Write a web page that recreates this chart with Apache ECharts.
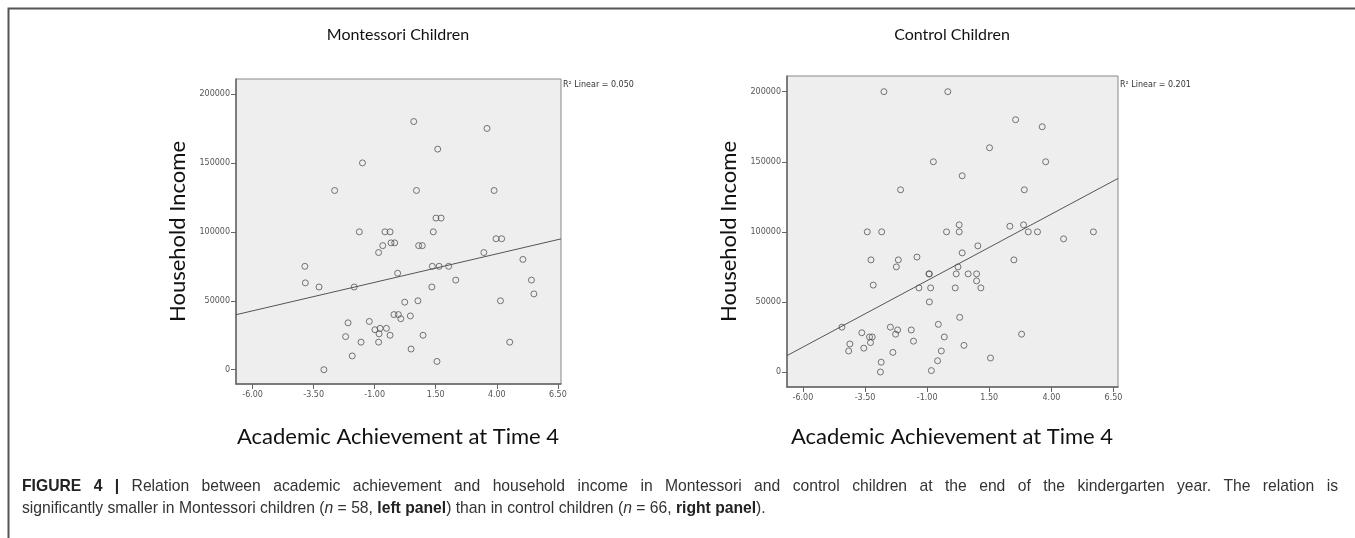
<!DOCTYPE html>
<html>
<head>
<meta charset="utf-8">
<script src="https://cdn.jsdelivr.net/npm/echarts@6/dist/echarts.min.js"></script>
<style>
html,body{margin:0;padding:0;background:#fff;}
#chart{width:1355px;height:538px;}
</style>
</head>
<body>
<div id="chart"></div>
<script>
// ---- Data ----
const panelTitles = ['Montessori Children', 'Control Children'];
const xAxisTitle = 'Academic Achievement at Time 4';
const yAxisTitle = 'Household Income';
const xTickValues = [-6, -3.5, -1, 1.5, 4, 6.5];
const yTickValues = [0, 50000, 100000, 150000, 200000];

const montessoriAchievement = [-1.5,-2.64,-1.63,-3.86,-3.84,-3.28,-1.84,-2.09,-2.19,-1.22,-1.56,-1.92,-3.08,0.60,3.60,1.58,0.71,3.89,1.51,1.72,-0.58,-0.37,1.40,3.97,4.20,-0.33,-0.18,-0.67,-0.84,0.80,0.95,3.47,5.07,-0.06,1.36,1.64,2.03,2.32,5.42,1.34,5.52,0.23,0.77,4.15,-0.21,-0.03,0.07,0.46,-0.99,-0.78,-0.82,-0.52,-0.37,-0.84,0.98,0.49,4.53,1.55];
const montessoriIncome = [150000,130000,100000,75000,63000,60000,60000,34000,24000,35000,20000,10000,0,180000,175000,160000,130000,130000,110000,110000,100000,100000,100000,95000,95000,92000,92000,90000,85000,90000,90000,85000,80000,70000,75000,75000,75000,65000,65000,60000,55000,49000,50000,50000,40000,40000,37000,39000,29000,30000,26000,30000,25000,20000,25000,15000,20000,6000];

const controlAchievement = [-2.74,-0.17,-2.07,-3.41,-2.83,2.56,3.63,1.51,-0.75,3.77,0.41,2.91,0.29,-0.22,0.29,2.33,2.88,3.07,3.44,4.49,5.69,1.04,-1.41,0.41,2.49,0.24,-0.93,-0.91,0.17,0.65,0.99,0.99,-1.33,-0.86,0.13,1.16,-0.91,0.31,-1.64,-0.55,-1.55,-0.31,2.80,0.48,-0.43,-0.58,1.55,-0.83,-3.26,-2.16,-2.24,-3.17,-4.43,-3.63,-3.32,-3.21,-3.28,-4.11,-4.16,-3.55,-2.48,-2.19,-2.27,-2.38,-2.85,-2.88];
const controlIncome = [200000,200000,130000,100000,100000,180000,175000,160000,150000,150000,140000,130000,105000,100000,100000,104000,105000,100000,100000,95000,100000,90000,82000,85000,80000,75000,70000,70000,70000,70000,70000,65000,60000,60000,60000,60000,50000,39000,30000,34000,22000,25000,27000,19000,15000,8000,10000,1000,80000,80000,75000,62000,32000,28000,25000,25000,21000,20000,15000,17000,32000,30000,27000,14000,7000,0];

// Linear fit lines (end points)
const montessoriFitX = [-6.68, 6.63];
const montessoriFitY = [39900, 94900];
const controlFitX = [-6.64, 6.68];
const controlFitY = [11700, 138100];

const rSquaredLabels = ['R\u00B2 Linear = 0.050', 'R\u00B2 Linear = 0.201'];

const captionLine1Bold = 'FIGURE 4 |';
const captionLine1 = 'Relation between academic achievement and household income in Montessori and control children at the end of the kindergarten year. The relation is';
const captionLine2 = 'significantly smaller in Montessori children ({i|n} = 58, {b|left panel}) than in control children ({i|n} = 66, {b|right panel}).';

// ---- Build chart ----
const zip = (a, b) => a.map((v, i) => [v, b[i]]);
const chart = echarts.init(document.getElementById('chart'), null, {renderer: 'canvas'});

const grids = [
  {left: 236, top: 79, width: 325, height: 305},
  {left: 787, top: 76, width: 331, height: 311}
];
const xRanges = [[-6.68, 6.63], [-6.64, 6.68]];
const yRanges = [[-10360, 210870], [-10700, 211200]];

function xAxisCfg(i) {
  return {
    type: 'value', gridIndex: i, min: xRanges[i][0], max: xRanges[i][1],
    splitLine: {show: false},
    axisLine: {onZero: false, lineStyle: {color: '#666', width: 1.5}},
    axisTick: {show: true, length: 5, customValues: xTickValues, lineStyle: {color: '#666'}},
    axisLabel: {customValues: xTickValues, formatter: v => v.toFixed(2), fontSize: 8, color: '#555', margin: 7, fontFamily: 'DejaVu Sans'}
  };
}
function yAxisCfg(i) {
  return {
    type: 'value', gridIndex: i, min: yRanges[i][0], max: yRanges[i][1],
    splitLine: {show: false},
    axisLine: {show: true, onZero: false, lineStyle: {color: '#666', width: 1.5}},
    axisTick: {show: true, length: 5, customValues: yTickValues, lineStyle: {color: '#666'}},
    axisLabel: {customValues: yTickValues, formatter: v => String(v), fontSize: 8, color: '#555', margin: 6, fontFamily: 'DejaVu Sans'}
  };
}

const pointStyle = {color: 'rgba(0,0,0,0)', borderColor: '#555', borderWidth: 1};

const series = [
  {type: 'scatter', xAxisIndex: 0, yAxisIndex: 0, data: zip(montessoriAchievement, montessoriIncome), symbol: 'circle', symbolSize: 6, itemStyle: pointStyle, silent: true, z: 3},
  {type: 'line', xAxisIndex: 0, yAxisIndex: 0, data: zip(montessoriFitX, montessoriFitY), symbol: 'none', lineStyle: {color: '#555', width: 1}, silent: true, z: 2},
  {type: 'scatter', xAxisIndex: 1, yAxisIndex: 1, data: zip(controlAchievement, controlIncome), symbol: 'circle', symbolSize: 6, itemStyle: pointStyle, silent: true, z: 3},
  {type: 'line', xAxisIndex: 1, yAxisIndex: 1, data: zip(controlFitX, controlFitY), symbol: 'none', lineStyle: {color: '#555', width: 1}, silent: true, z: 2}
];

const titleFont = 'Lato, "Open Sans", sans-serif';
const captionFamily = '"Liberation Sans", Arial, sans-serif';
const captionSize = 15.7;
const centers = [398, 952];
const graphics = [
  {type: 'polyline', shape: {points: [[8.5, 538], [8.5, 8.5], [1355, 8.5]]}, style: {stroke: '#555', lineWidth: 2, fill: null}, silent: true}
];
[0, 1].forEach(i => {
  graphics.push({type: 'text', x: centers[i], y: 35, style: {text: panelTitles[i], font: '16px ' + titleFont, fill: '#111', align: 'center', verticalAlign: 'middle'}});
  graphics.push({type: 'text', x: centers[i], y: 437, style: {text: xAxisTitle, font: '22px ' + titleFont, fill: '#111', align: 'center', verticalAlign: 'middle'}});
  graphics.push({type: 'text', x: grids[i].left - 58, y: grids[i].top + grids[i].height / 2, rotation: Math.PI / 2, style: {text: yAxisTitle, font: '22px ' + titleFont, fill: '#111', align: 'center', verticalAlign: 'middle'}});
  graphics.push({type: 'text', x: grids[i].left + grids[i].width + 2, y: 85, style: {text: rSquaredLabels[i], font: '8px "DejaVu Sans"', fill: '#333', align: 'left', verticalAlign: 'middle'}});
});

// Caption line 1 is justified (spread over the full text width), line 2 is left aligned
const capLeft = 22, capRight = 1338, capY1 = 487, capY2 = 509;
const measureCtx = document.createElement('canvas').getContext('2d');
function textWidth(t, bold) {
  measureCtx.font = (bold ? 'bold ' : '') + captionSize + 'px ' + captionFamily;
  return measureCtx.measureText(t).width;
}
const words = captionLine1Bold.split(' ').map(w => ({t: w, b: true}))
  .concat(captionLine1.split(' ').map(w => ({t: w, b: false})));
const totalW = words.reduce((s, w) => s + textWidth(w.t, w.b), 0);
const gap = (capRight - capLeft - totalW) / (words.length - 1);
let cx = capLeft;
words.forEach(w => {
  graphics.push({type: 'text', x: cx, y: capY1, style: {text: w.t, font: (w.b ? 'bold ' : '') + captionSize + 'px ' + captionFamily, fill: w.b ? '#222' : '#333', align: 'left', verticalAlign: 'middle'}});
  cx += textWidth(w.t, w.b) + gap;
});
graphics.push({
  type: 'text', x: capLeft, y: capY2,
  style: {
    text: captionLine2,
    font: captionSize + 'px ' + captionFamily, fill: '#333', verticalAlign: 'middle',
    rich: {
      b: {fontWeight: 'bold', fontSize: captionSize, fontFamily: captionFamily, fill: '#222'},
      i: {fontStyle: 'italic', fontSize: captionSize, fontFamily: captionFamily, fill: '#333'}
    }
  }
});

chart.setOption({
  animation: false,
  backgroundColor: '#fff',
  grid: grids.map(g => Object.assign({show: true, backgroundColor: '#eeeeee', borderColor: '#888', borderWidth: 1, containLabel: false}, g)),
  xAxis: [xAxisCfg(0), xAxisCfg(1)],
  yAxis: [yAxisCfg(0), yAxisCfg(1)],
  series: series,
  graphic: graphics
});
</script>
</body>
</html>
